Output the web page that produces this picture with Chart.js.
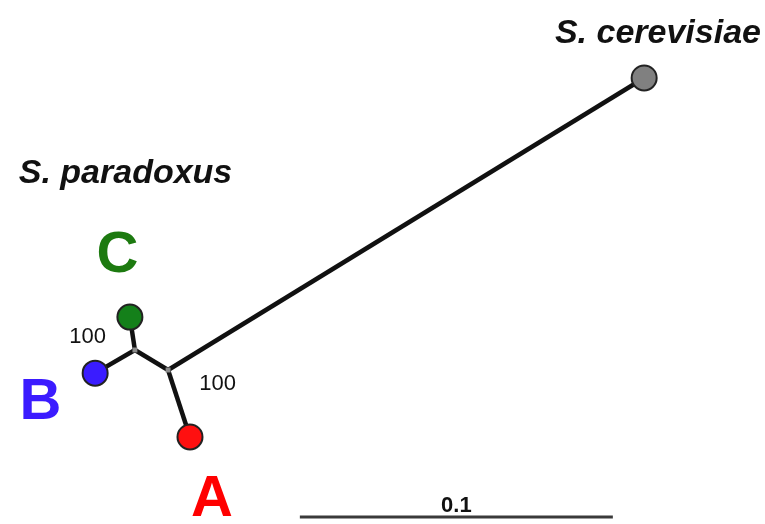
<!DOCTYPE html>
<html>
<head>
<meta charset="utf-8">
<script src="https://cdn.jsdelivr.net/npm/chart.js@4"></script>
<style>
  body { margin: 0; background: #fff; }
  #wrap { width: 765px; height: 524px; position: relative; }
</style>
</head>
<body>
<div id="wrap"><canvas id="treeChart"></canvas></div>
<script>
// tree layout in branch-length units (scale bar = 0.1)
const nodeNames = ['S. cerevisiae', 'n2', 'n1', 'C', 'B', 'A'];
const nodeX = [0.2058, 0.0537, 0.0431, 0.0415, 0.0304, 0.0607];
const nodeY = [0.1425, 0.0492, 0.0556, 0.0661, 0.0482, 0.0278];
const edges = [[0, 1], [1, 2], [2, 3], [2, 4], [1, 5]];
const tipIndex = [0, 3, 4, 5];
const tipColors = ['#808080', '#14801a', '#3a1cff', '#ff1010'];
const innerIndex = [1, 2];

const bootstrap = ['100', '100'];
const bootX = [0.0280, 0.0695];
const bootY = [0.0578, 0.0428];

const scaleBarX = [0.0958, 0.1958];
const scaleBarY = 0.0022;
const scaleBarLabel = '0.1';

const labels = ['S. cerevisiae', 'S. paradoxus', 'C', 'B', 'A'];
const labelX = [0.2102, 0.0401, 0.0375, 0.0129, 0.0677];
const labelY = [0.1537, 0.1089, 0.0805, 0.0335, 0.0026];
const labelColors = ['#111', '#111', '#1d7a10', '#3b1bff', '#ff0000'];
const labelFonts = ['italic bold 34px "Liberation Sans"', 'italic bold 34px "Liberation Sans"',
    'bold 58px "Liberation Sans"', 'bold 58px "Liberation Sans"', 'bold 58px "Liberation Sans"'];

const datasets = [];

edges.forEach(e => {
    datasets.push({
        data: [{ x: nodeX[e[0]], y: nodeY[e[0]] }, { x: nodeX[e[1]], y: nodeY[e[1]] }],
        showLine: true,
        borderColor: '#111',
        borderWidth: 4.5,
        pointRadius: 0,
        order: 3
    });
});

datasets.push({
    data: [{ x: scaleBarX[0], y: scaleBarY }, { x: scaleBarX[1], y: scaleBarY }],
    showLine: true,
    borderColor: '#3a3a3a',
    borderWidth: 3,
    pointRadius: 0,
    order: 3
});

datasets.push({
    data: innerIndex.map(i => ({ x: nodeX[i], y: nodeY[i] })),
    pointStyle: 'rect',
    pointRadius: 3.5,
    backgroundColor: '#8a8a8a',
    borderColor: '#8a8a8a',
    borderWidth: 0,
    order: 1
});

datasets.push({
    data: tipIndex.map(i => ({ x: nodeX[i], y: nodeY[i] })),
    pointRadius: 12.5,
    backgroundColor: tipColors,
    borderColor: '#222',
    borderWidth: 2,
    order: 0
});

const textPlugin = {
    id: 'treeText',
    afterDatasetsDraw(chart) {
        const ctx = chart.ctx;
        const xs = chart.scales.x;
        const ys = chart.scales.y;
        ctx.save();
        ctx.textAlign = 'center';
        ctx.textBaseline = 'alphabetic';
        labels.forEach((t, i) => {
            ctx.font = labelFonts[i];
            ctx.fillStyle = labelColors[i];
            ctx.fillText(t, xs.getPixelForValue(labelX[i]), ys.getPixelForValue(labelY[i]));
        });
        ctx.font = '22px "Liberation Sans"';
        ctx.fillStyle = '#111';
        bootstrap.forEach((t, i) => {
            ctx.fillText(t, xs.getPixelForValue(bootX[i]), ys.getPixelForValue(bootY[i]));
        });
        ctx.font = 'bold 22px "Liberation Sans"';
        ctx.fillText(scaleBarLabel,
            xs.getPixelForValue((scaleBarX[0] + scaleBarX[1]) / 2),
            ys.getPixelForValue(scaleBarY + 0.0016));
        ctx.restore();
    }
};

new Chart(document.getElementById('treeChart'), {
    type: 'scatter',
    data: { datasets: datasets },
    options: {
        responsive: true,
        maintainAspectRatio: false,
        animation: false,
        layout: { padding: 0, autoPadding: false },
        plugins: {
            legend: { display: false },
            tooltip: { enabled: false }
        },
        scales: {
            x: { type: 'linear', min: 0, max: 765 / 3130, display: false },
            y: { type: 'linear', min: 0, max: 524 / 3130, display: false }
        }
    },
    plugins: [textPlugin]
});
</script>
</body>
</html>
